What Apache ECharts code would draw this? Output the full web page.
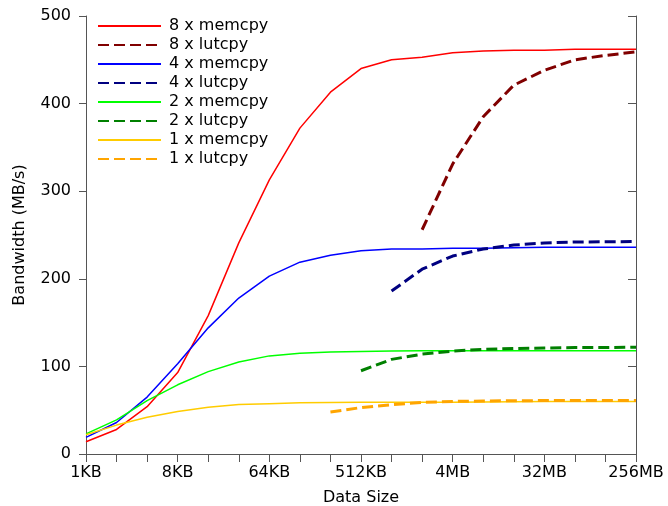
<!DOCTYPE html>
<html>
<head>
<meta charset="utf-8">
<script src="https://cdn.jsdelivr.net/npm/echarts@6/dist/echarts.min.js"></script>
<style>
  html, body { margin: 0; padding: 0; background: #fff; }
  #chart { width: 668px; height: 506px; }
</style>
</head>
<body>
<div id="chart"></div>
<script>
// data sizes, one per power of two
const sizes = ['1KB', '2KB', '4KB', '8KB', '16KB', '32KB', '64KB', '128KB', '256KB', '512KB',
    '1MB', '2MB', '4MB', '8MB', '16MB', '32MB', '64MB', '128MB', '256MB'];
const yTicks = [0, 100, 200, 300, 400, 500];

const memcpy8 = [14, 28, 54, 93, 158, 241, 313, 372, 413, 440, 450, 453, 458, 460, 461, 461, 462, 462, 462];
const lutcpy8 = [null, null, null, null, null, null, null, null, null, null, null, 256, 331, 385, 421, 438, 450, 455, 459];
const memcpy4 = [19, 36, 65, 103, 144, 178, 203, 219, 227, 232, 234, 234, 235, 235, 235.5, 236, 236, 236, 236];
const lutcpy4 = [null, null, null, null, null, null, null, null, null, null, 186, 211, 226, 234, 238.5, 241, 242, 242.3, 242.5];
const memcpy2 = [23, 39, 61, 79, 94, 105, 112, 115, 116.5, 117, 117.5, 118, 118, 118, 118, 118, 118, 118, 118];
const lutcpy2 = [null, null, null, null, null, null, null, null, null, 95, 108, 114, 117.5, 119.5, 120.5, 121, 121.5, 121.5, 122];
const memcpy1 = [22, 33, 42, 48.5, 53.5, 56.5, 57.5, 58.5, 58.8, 59, 59, 59, 59.2, 59.4, 59.6, 59.8, 60, 60, 60];
const lutcpy1 = [null, null, null, null, null, null, null, null, 48, 53, 56.3, 59, 60, 60.5, 60.8, 61, 61, 61, 61];

const FONT = 'DejaVu Sans';
const FS = 16;
const axisColor = '#555';

const solid = (name, color, data) => ({
    name: name,
    type: 'line',
    data: data,
    symbol: 'none',
    lineStyle: { color: color, width: 1.5 },
    itemStyle: { color: color }
});
const dashed = (name, color, data) => ({
    name: name,
    type: 'line',
    data: data,
    symbol: 'none',
    lineStyle: { color: color, width: 3, type: [11, 5] },
    itemStyle: { color: color }
});

const chart = echarts.init(document.getElementById('chart'));
chart.setOption({
    animation: false,
    textStyle: { fontFamily: FONT },
    grid: { left: 86, right: 32, top: 16, bottom: 52, outerBoundsMode: 'none' },
    legend: {
        orient: 'vertical',
        left: 97,
        top: 18,
        padding: 0,
        itemWidth: 63,
        itemHeight: 14,
        itemGap: 3,
        itemStyle: { opacity: 0 },
        textStyle: { fontFamily: FONT, fontSize: FS, color: '#000', padding: [0, 0, 0, 3] },
        data: ['8 x memcpy', '8 x lutcpy', '4 x memcpy', '4 x lutcpy',
            '2 x memcpy', '2 x lutcpy', '1 x memcpy', '1 x lutcpy']
    },
    xAxis: {
        type: 'category',
        data: sizes,
        boundaryGap: false,
        name: 'Data Size',
        nameLocation: 'middle',
        nameGap: 36,
        nameTextStyle: { fontFamily: FONT, fontSize: FS, color: '#000' },
        axisLine: { lineStyle: { color: axisColor, width: 1 } },
        axisTick: { interval: 0, length: 8, lineStyle: { color: axisColor } },
        axisLabel: { interval: 2, fontFamily: FONT, fontSize: FS, color: '#000', margin: 11 },
        splitLine: { show: false }
    },
    yAxis: [{
        type: 'value',
        min: yTicks[0],
        max: yTicks[yTicks.length - 1],
        interval: 100,
        name: 'Bandwidth (MB/s)',
        nameLocation: 'middle',
        nameGap: 58,
        nameTextStyle: { fontFamily: FONT, fontSize: FS, color: '#000' },
        axisLine: { show: true, lineStyle: { color: axisColor } },
        axisTick: { show: true, length: 7, lineStyle: { color: axisColor } },
        axisLabel: { fontFamily: FONT, fontSize: FS, color: '#000', margin: 15 },
        splitLine: { show: false }
    }, {
        type: 'value',
        position: 'right',
        min: yTicks[0],
        max: yTicks[yTicks.length - 1],
        interval: 100,
        axisLine: { show: true, lineStyle: { color: axisColor } },
        axisTick: { show: true, inside: true, length: 8, lineStyle: { color: axisColor } },
        axisLabel: { show: false },
        splitLine: { show: false }
    }],
    series: [
        solid('8 x memcpy', '#ff0000', memcpy8),
        dashed('8 x lutcpy', '#800000', lutcpy8),
        solid('4 x memcpy', '#0000ff', memcpy4),
        dashed('4 x lutcpy', '#000080', lutcpy4),
        solid('2 x memcpy', '#00ff00', memcpy2),
        dashed('2 x lutcpy', '#008000', lutcpy2),
        solid('1 x memcpy', '#ffcc00', memcpy1),
        dashed('1 x lutcpy', '#ffa500', lutcpy1)
    ]
});
</script>
</body>
</html>
